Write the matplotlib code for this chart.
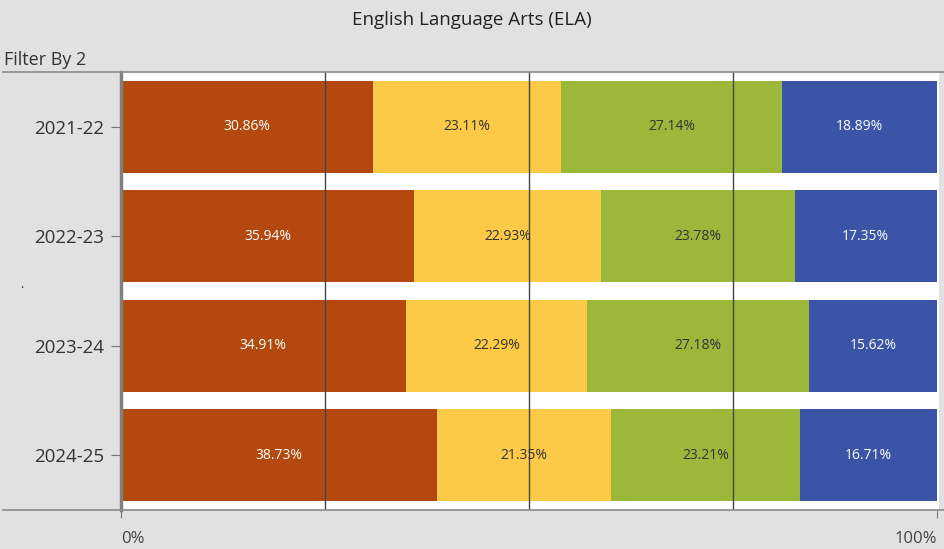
import matplotlib
matplotlib.use("Agg")
import matplotlib.pyplot as plt
from matplotlib.lines import Line2D

plt.rcParams['font.family'] = ['Open Sans', 'DejaVu Sans']

years = ["2021-22", "2022-23", "2023-24", "2024-25"]
level1 = [30.86, 35.94, 34.91, 38.73]
level2 = [23.11, 22.93, 22.29, 21.35]
level3 = [27.14, 23.78, 27.18, 23.21]
level4 = [18.89, 17.35, 15.62, 16.71]

series = [level1, level2, level3, level4]
colors = ["#B3490F", "#FCCA46", "#9BB83A", "#3A55A5"]
label_colors = ["white", "#333333", "#333333", "white"]

W, H = 945, 549
fig = plt.figure(figsize=(W / 100, H / 100), dpi=100, facecolor="#e1e1e1")
ax = fig.add_axes([121 / W, (H - 510) / H, (939 - 121) / W, (510 - 72) / H])
ax.set_facecolor("white")

ypos = list(range(len(years)))
left = [0.0] * len(years)
for vals, col, lc in zip(series, colors, label_colors):
    ax.barh(ypos, vals, left=left, height=0.84, color=col, zorder=2)
    for y, v, l in zip(ypos, vals, left):
        ax.text(l + v / 2, y, f"{v:.2f}%", ha="center", va="center",
                fontsize=10, color=lc, zorder=4)
    left = [a + b for a, b in zip(left, vals)]

ax.set_xlim(0, 100.3)
ax.set_ylim(len(years) - 0.5, -0.5)
ax.set_yticks(ypos)
ax.set_yticklabels(years, fontsize=13.5, color="#333333")
ax.set_xticks([0, 100])
ax.set_xticklabels(["0%", "100%"], fontsize=12, color="#444444")
xt = ax.get_xticklabels()
xt[0].set_ha("left")
xt[1].set_ha("right")
ax.tick_params(axis="y", length=7, color="#777777", pad=5)
ax.tick_params(axis="x", length=6, color="#777777", pad=9)

for gx in [25, 50, 75]:
    ax.axvline(gx, color="#444444", linewidth=1.0, zorder=3)

for s in ["top", "right", "bottom"]:
    ax.spines[s].set_visible(False)
ax.spines["left"].set_color("#808080")
ax.spines["left"].set_linewidth(2.5)
ax.spines["left"].set_zorder(5)

# full-width rules above and below the plot area
fig.add_artist(Line2D([3 / W, 1], [(H - 72) / H] * 2, color="#8a8a8a", linewidth=1.2))
fig.add_artist(Line2D([3 / W, 1], [(H - 510) / H] * 2, color="#8a8a8a", linewidth=1.2))

fig.text(472 / W, 1 - 20 / H, "English Language Arts (ELA)", ha="center", va="center",
         fontsize=13.5, color="#222222")
fig.text(4 / W, 1 - 60 / H, "Filter By 2", ha="left", va="center",
         fontsize=13, color="#333333")
fig.text(22 / W, 1 - 291 / H, ".", ha="center", va="bottom", fontsize=9, color="#333333")

fig.savefig("out.png", dpi=100, facecolor=fig.get_facecolor())
